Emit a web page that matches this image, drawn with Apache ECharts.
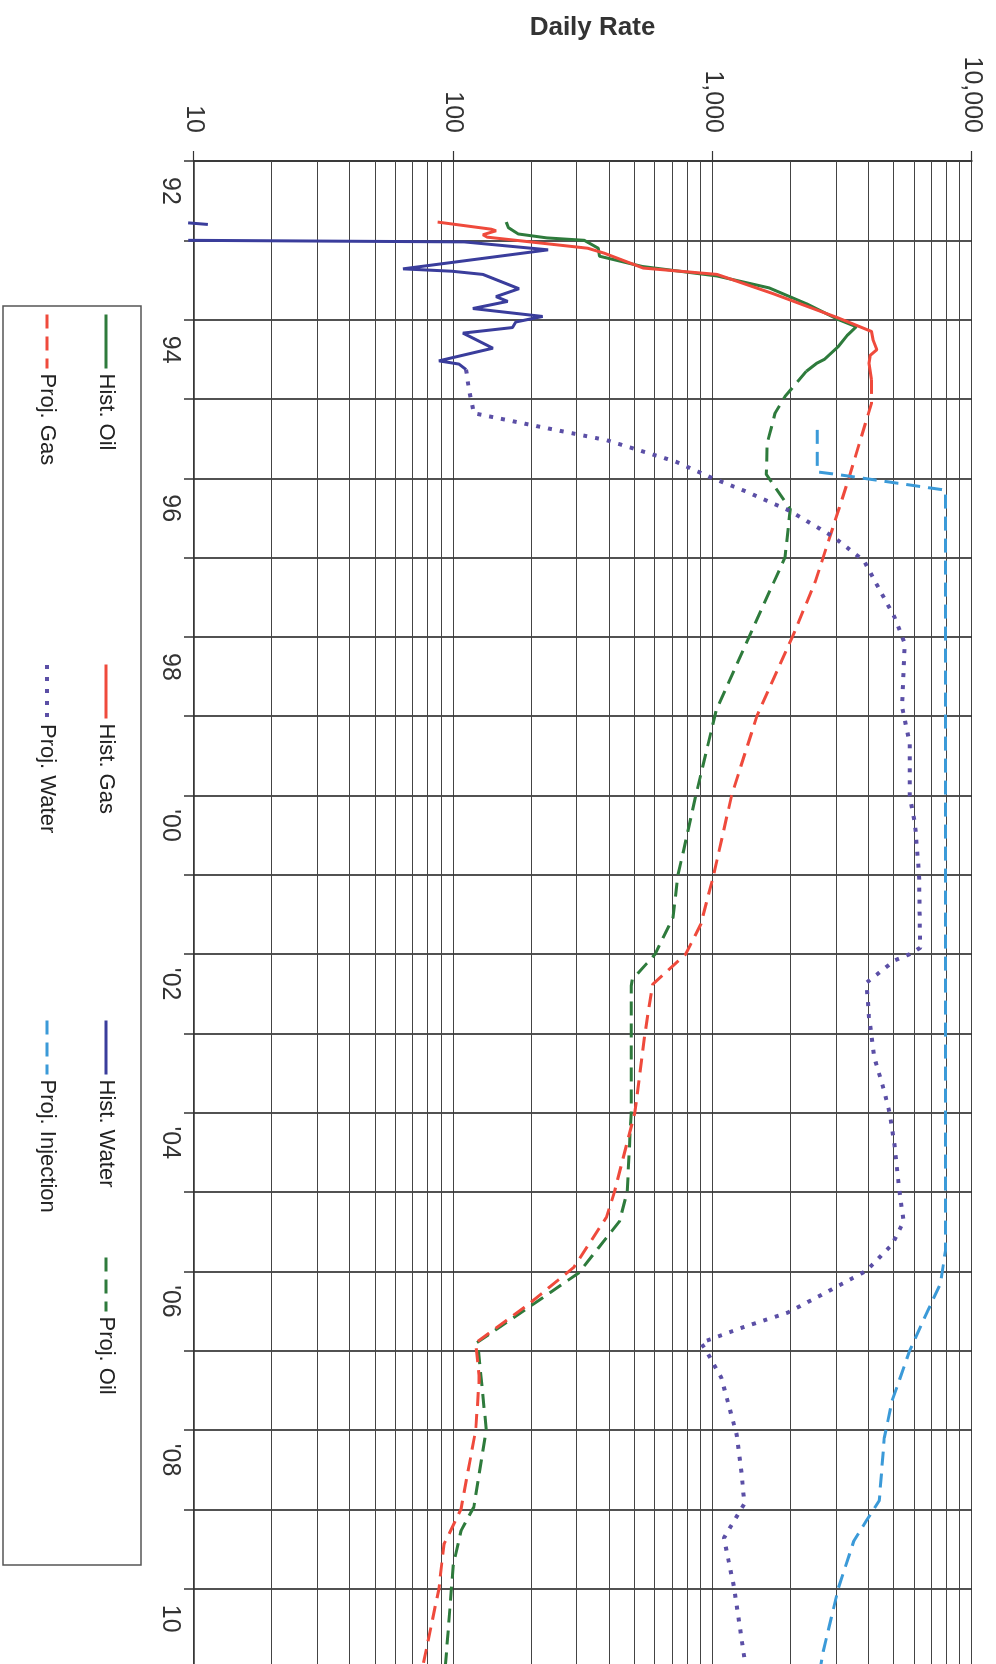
<!DOCTYPE html>
<html>
<head>
<meta charset="utf-8">
<script src="https://cdn.jsdelivr.net/npm/echarts@6/dist/echarts.min.js"></script>
<style>
html,body{margin:0;padding:0;background:#fff;overflow:hidden;width:996px;height:1664px;}
#chart{position:absolute;left:0;top:0;width:1664px;height:996px;transform-origin:0 0;transform:translate(996px,0) rotate(90deg);}
</style>
</head>
<body>
<div id="chart"></div>
<script>
// ---- data (year, daily rate) ----
const yearTicks = [1992,1993,1994,1995,1996,1997,1998,1999,2000,2001,2002,2003,2004,2005,2006,2007,2008,2009,2010,2011];
const yearLabels = ['92','','94','','96','','98','',"'00",'',"'02",'',"'04",'',"'06",'',"'08",'','10',''];
const rateTicks = [10,100,1000,10000];
const rateLabels = ['10','100','1,000','10,000'];
const minorRates = [20,30,40,50,60,70,80,90,200,300,400,500,600,700,800,900,2000,3000,4000,5000,6000,7000,8000,9000];

const histOil = [[1992.77,160],[1992.84,163],[1992.92,178],[1992.97,230],[1993.0,320],[1993.1,362],[1993.2,366],[1993.33,536],[1993.45,1040],[1993.6,1650],[1993.8,2300],[1994.0,3055],[1994.09,3580],[1994.2,3300],[1994.34,3050],[1994.5,2700],[1994.55,2520],[1994.65,2300]];
const histGas = [[1992.77,87],[1992.86,140],[1992.88,146],[1992.93,130],[1992.96,135],[1993.1,330],[1993.16,380],[1993.35,540],[1993.43,1040],[1993.67,1700],[1993.98,3055],[1994.15,4100],[1994.25,4150],[1994.38,4295],[1994.45,4050],[1994.55,4010],[1994.76,4100]];
const histWater = [[1992.78,9.5],[1992.8,11.3],[1992.9,null],[1993.0,9.5],[1993.02,110],[1993.12,232],[1993.36,64],[1993.39,99],[1993.43,130],[1993.61,179],[1993.71,146],[1993.77,162],[1993.86,119],[1993.96,221],[1994.03,174],[1994.1,169],[1994.17,109],[1994.36,142],[1994.52,88],[1994.56,105],[1994.63,112]];
const projOil = [[1994.65,2300],[1994.97,1900],[1995.18,1740],[1995.56,1623],[1995.95,1610],[1996.39,1990],[1997.0,1900],[1997.92,1416],[1998.92,1033],[2000.0,861],[2000.57,788],[2001.0,735],[2001.54,703],[2002.0,600],[2002.32,490],[2002.4,485],[2004.0,485],[2005.0,468],[2005.37,437],[2006.02,304],[2006.42,202],[2006.9,123],[2007.0,125],[2008.0,134],[2008.97,120],[2009.27,107],[2009.7,100],[2011.0,93]];
const projGas = [[1994.76,4100],[1995.05,4100],[1996.0,3350],[1997.3,2490],[1998.0,2030],[1999.0,1480],[2000.0,1183],[2001.0,1009],[2001.62,901],[2002.0,787],[2002.38,587],[2003.0,548],[2004.0,501],[2005.0,418],[2005.32,389],[2005.95,291],[2006.42,194],[2006.9,122],[2007.34,126],[2008.0,122],[2009.0,107],[2009.44,92],[2010.0,88],[2011.0,76]];
const projWater = [[1994.63,112],[1994.89,115],[1995.18,120],[1995.35,215],[1995.52,390],[1995.79,720],[1996.0,1000],[1996.16,1330],[1996.41,1980],[1996.74,2925],[1997.04,3830],[1997.75,5025],[1998.08,5500],[1998.88,5375],[1999.34,5750],[2000.0,5750],[2000.36,6030],[2000.99,6250],[2001.92,6310],[2002.0,5750],[2002.08,5025],[2002.36,3920],[2002.8,4010],[2003.3,4200],[2003.73,4590],[2004.0,4810],[2004.4,5025],[2004.99,5250],[2005.37,5450],[2005.66,4920],[2005.99,3920],[2006.25,2794],[2006.52,1945],[2006.71,1294],[2006.9,901],[2007.0,944],[2007.34,1080],[2008.05,1236],[2008.55,1294],[2008.93,1324],[2009.36,1105],[2009.99,1210],[2010.87,1324],[2011.0,1330]];
const projInjection = [[1995.39,2530],[1995.92,2530],[1995.95,2990],[1996.15,7900],[2005.74,7900],[2006.16,7550],[2006.5,6740],[2007.0,5750],[2007.63,4920],[2008.1,4590],[2008.89,4390],[2009.14,3920],[2009.4,3500],[2009.99,3055],[2010.79,2670],[2011.0,2600]];

// ---- styling ----
const FONT = "'Liberation Sans', Arial, sans-serif";
const LFONT = "'Liberation Sans Narrow', 'Liberation Sans', Arial, sans-serif";
const C = {oil:'#2e7b3c', gas:'#ef4a3c', water:'#3a3d9c', pwater:'#5b4fa6', inj:'#3b9ad8'};

function lineSeries(name, data, color, type, width, extra){
  return Object.assign({
    name, type:'line', data, showSymbol:false, symbol:'none', animation:false,
    z:5, lineStyle:{color, width, type, cap:'butt'}, itemStyle:{color},
    emphasis:{disabled:true}
  }, extra||{});
}
const dash = [14,8];
const dot = [4,8];

function legendItem(name, left, top, w){
  return {
    data:[name], left, top, orient:'horizontal', itemWidth:54, itemHeight:14,
    padding:0, selectedMode:false,
    itemStyle:{opacity:0, color:'transparent', borderWidth:0},
    lineStyle:{width:w||3},
    textStyle:{fontFamily:LFONT, fontSize:22, color:'#222'}
  };
}

const chart = echarts.init(document.getElementById('chart'), null, {renderer:'canvas'});
chart.setOption({
  backgroundColor:'#fff',
  animation:false,
  grid:{left:161, top:24, width:1507, height:778, containLabel:false, outerBoundsMode:'none'},
  xAxis:{
    type:'value', min:1992, max:2011, interval:1,
    axisLine:{show:true, onZero:false, lineStyle:{color:'#333', width:1.5}},
    axisTick:{show:true, length:10, lineStyle:{color:'#333', width:1.5}},
    axisLabel:{show:true, margin:12, fontFamily:FONT, fontSize:25, color:'#333',
      padding:[0,0,0,60],
      formatter:(v)=>{const i=yearTicks.indexOf(Math.round(v)); return i>=0?yearLabels[i]:'';}},
    splitLine:{show:true, lineStyle:{color:'#333', width:1.7}}
  },
  yAxis:{
    type:'log', logBase:10, min:10, max:10000,
    name:'Daily Rate', nameLocation:'middle', nameGap:120, nameMoveOverlap:false,
    nameTextStyle:{fontFamily:FONT, fontSize:26, fontWeight:'bold', color:'#333', padding:[0,0,0,19]},
    axisLine:{show:true, onZero:false, lineStyle:{color:'#333', width:1.5}},
    axisTick:{show:true, length:10, lineStyle:{color:'#333', width:1.2}},
    axisLabel:{show:true, margin:28, fontFamily:FONT, fontSize:25, color:'#333',
      formatter:(v)=>{const i=rateTicks.indexOf(Math.round(v)); return i>=0?rateLabels[i]:'';}},
    splitLine:{show:true, lineStyle:{color:'#444', width:1}}
  },
  legend:[
    legendItem('Hist. Oil',313,879),
    legendItem('Hist. Gas',663,879),
    legendItem('Hist. Water',1019,879),
    legendItem('Proj. Oil',1256,879),
    legendItem('Proj. Gas',313,938),
    legendItem('Proj. Water',663,938,4),
    legendItem('Proj. Injection',1019,938)
  ],
  graphic:[{type:'rect', shape:{x:306, y:855, width:1259, height:138},
    style:{fill:'none', stroke:'#555', lineWidth:1.5}, silent:true, z:0}],
  series:[
    {name:'_minorGrid', type:'line', data:[[1992,10]], showSymbol:false, symbol:'none',
     lineStyle:{opacity:0}, silent:true, z:1, animation:false,
     markLine:{silent:true, symbol:['none','none'], label:{show:false}, animation:false,
       lineStyle:{color:'#444', width:1, type:'solid'}, emphasis:{disabled:true},
       data:minorRates.map(v=>({yAxis:v}))}},
    lineSeries('Hist. Oil', histOil, C.oil, 'solid', 3),
    lineSeries('Hist. Gas', histGas, C.gas, 'solid', 3),
    lineSeries('Hist. Water', histWater, C.water, 'solid', 3, {clip:false, connectNulls:false}),
    lineSeries('Proj. Oil', projOil, C.oil, dash, 3),
    lineSeries('Proj. Gas', projGas, C.gas, dash, 3),
    lineSeries('Proj. Water', projWater, C.pwater, dot, 4),
    lineSeries('Proj. Injection', projInjection, C.inj, dash, 3)
  ]
});
</script>
</body>
</html>
